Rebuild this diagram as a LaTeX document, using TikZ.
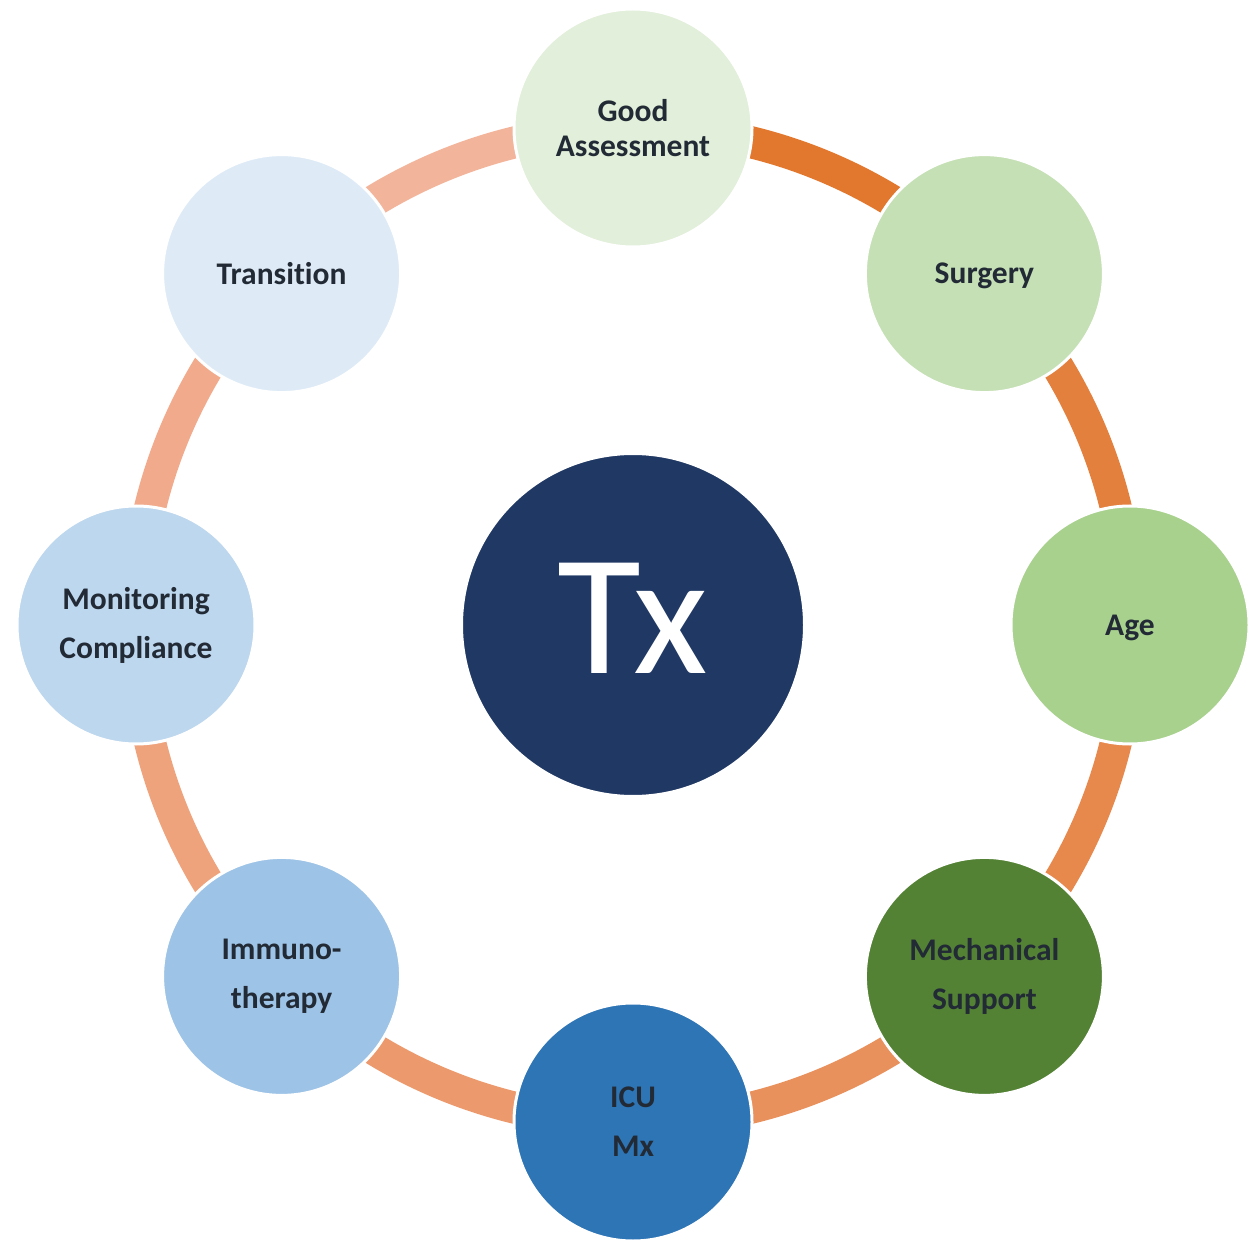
\documentclass[tikz,border=0pt]{standalone}
\usepackage{fontspec}
\setmainfont{Carlito}[Ligatures=NoCommon]
\newfontfamily\lblfont{Carlito}[BoldFont={Carlito Bold}, Ligatures=NoCommon]
\definecolor{txtdark}{HTML}{222A35}
\definecolor{cGood}{HTML}{E2EFDA}
\definecolor{cSurg}{HTML}{C5E0B4}
\definecolor{cAge}{HTML}{A9D18E}
\definecolor{cMech}{HTML}{548235}
\definecolor{cICU}{HTML}{2E75B6}
\definecolor{cImmu}{HTML}{9DC3E6}
\definecolor{cMoni}{HTML}{BDD7EE}
\definecolor{cTran}{HTML}{DEEBF7}
\definecolor{cCenter}{HTML}{203864}
\definecolor{a0}{HTML}{E2772E}
\definecolor{a1}{HTML}{E4803E}
\definecolor{a2}{HTML}{E7884D}
\definecolor{a3}{HTML}{E9915D}
\definecolor{a4}{HTML}{EC9A6D}
\definecolor{a5}{HTML}{EEA37D}
\definecolor{a6}{HTML}{F1AB8C}
\definecolor{a7}{HTML}{F3B49C}
\begin{document}
\begin{tikzpicture}[x=1pt,y=-1pt,
  bubble/.style={circle, draw=white, line width=3pt, minimum size=238pt, inner sep=0pt,
     text=txtdark, align=center, font=\lblfont\bfseries\fontsize{31.5}{49}\selectfont},
  ringarc/.style={line width=32pt}]
\useasboundingbox (0,0) rectangle (1254,1246);
\coordinate (C) at (633,625);
% ring segments
\coordinate (pG) at (633,128);
\coordinate (pS) at (984.4,273.6);
\coordinate (pA) at (1130,625);
\coordinate (pM) at (984.4,976.4);
\coordinate (pI) at (633,1122);
\coordinate (pT) at (281.6,976.4);
\coordinate (pC) at (136,625);
\coordinate (pR) at (281.6,273.6);
\draw[ringarc, a0] (pG) arc[start angle=-90, end angle=-45, radius=497];
\draw[ringarc, a1] (pS) arc[start angle=-45, end angle=0, radius=497];
\draw[ringarc, a2] (pA) arc[start angle=0, end angle=45, radius=497];
\draw[ringarc, a3] (pM) arc[start angle=45, end angle=90, radius=497];
\draw[ringarc, a4] (pI) arc[start angle=90, end angle=135, radius=497];
\draw[ringarc, a5] (pT) arc[start angle=135, end angle=180, radius=497];
\draw[ringarc, a6] (pC) arc[start angle=180, end angle=225, radius=497];
\draw[ringarc, a7] (pR) arc[start angle=225, end angle=270, radius=497];
% bubbles
\node[bubble, fill=cGood, font=\lblfont\bfseries\fontsize{31.5}{35}\selectfont] (good) at (pG) {Good\\Assessment};
\node[bubble, fill=cSurg, text depth=0pt] (surg) at (pS) {Surgery};
\node[bubble, fill=cAge, text depth=0pt] (age) at (pA) {Age};
\node[bubble, fill=cMech] (mech) at (pM) {Mechanical\\Support};
\node[bubble, fill=cICU] (icu) at (pI) {ICU\\Mx};
\node[bubble, fill=cImmu] (immu) at (pT) {Immuno-\\therapy};
\node[bubble, fill=cMoni] (moni) at (pC) {Monitoring\\Compliance};
\node[bubble, fill=cTran] (tran) at (pR) {Transition};
% center
\node[circle, fill=cCenter, draw=white, line width=2pt, minimum size=342pt, inner sep=0pt] (center) at (C) {};
\node[text=white, font=\fontsize{172}{172}\selectfont, inner sep=0pt] (tx) at (633,618) {Tx};
\end{tikzpicture}
\end{document}
